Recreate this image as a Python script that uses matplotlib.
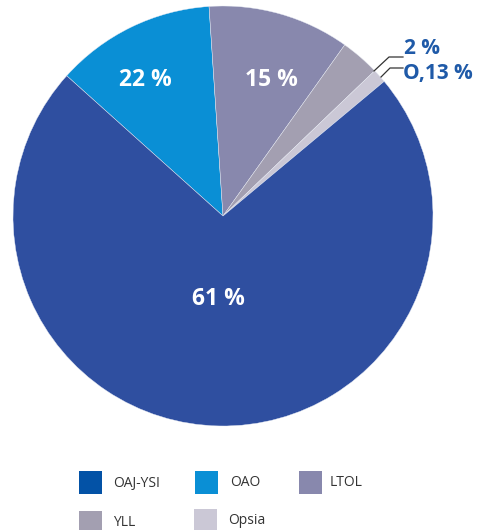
import matplotlib
matplotlib.use("Agg")
import matplotlib.pyplot as plt
from matplotlib.patches import Rectangle

plt.rcParams['font.family'] = ['Open Sans', 'DejaVu Sans']

# Data (slice shares as drawn in the picture; labels as printed)
categories = ["OAO", "LTOL", "YLL", "Opsia", "OAJ-YSI"]
shares = [12.3, 10.9, 3.0, 1.08, 72.7]
label_texts = ["22 %", "15 %", "2 %", "O,13 %", "61 %"]
colors = ["#0a8fd5", "#8888ad", "#a39fb1", "#cbc8d6", "#2f4fa0"]
legend_order = ["OAJ-YSI", "OAO", "LTOL", "YLL", "Opsia"]
legend_colors = {"OAJ-YSI": "#0352a6", "OAO": "#0a8fd5", "LTOL": "#8888ad",
                 "YLL": "#a39fb1", "Opsia": "#cbc8d6"}

W, H = 479, 530
fig = plt.figure(figsize=(W / 100, H / 100), dpi=100)
cx, cy, r = 223, 216, 210
ax = fig.add_axes([(cx - r) / W, (H - cy - r) / H, 2 * r / W, 2 * r / H])
ax.pie(shares, colors=colors, startangle=138.1, counterclock=False, radius=1,
       wedgeprops=dict(edgecolor="#e8ecf5", linewidth=0.3))
ax.set_xlim(-1, 1)
ax.set_ylim(-1, 1)
ax.axis("off")

def px(x, y):
    return (x - cx) / r, (cy - y) / r

txt_in = dict(color="white", fontsize=16.5, fontweight="bold", ha="center", va="center")
ax.text(*px(145, 80), label_texts[0], **txt_in)
ax.text(*px(271, 80), label_texts[1], **txt_in)
ax.text(*px(218, 299), label_texts[4], **txt_in)

txt_out = dict(color="#1f5aa8", fontsize=15, fontweight="bold", ha="left", va="center")
ax.text(*px(404, 49), label_texts[2], **txt_out, clip_on=False)
ax.text(*px(403, 74), label_texts[3], **txt_out, clip_on=False)

# leader lines
for pts in ([(374, 71), (389, 57), (403, 57)], [(381, 77), (390, 68), (403, 68)]):
    xs, ys = zip(*[px(*p) for p in pts])
    ax.plot(xs, ys, color="#333333", lw=0.9, clip_on=False)

# legend (manual)
pos = {"OAJ-YSI": (79, 471, 113), "OAO": (195, 471, 230), "LTOL": (299, 471, 330),
       "YLL": (79, 511, 113), "Opsia": (194, 509, 228)}
for name in legend_order:
    x0, y0, tx = pos[name]
    fig.patches.append(Rectangle((x0 / W, 1 - (y0 + 23) / H), 23 / W, 23 / H,
                                 transform=fig.transFigure, facecolor=legend_colors[name],
                                 edgecolor="none"))
    fig.text(tx / W, 1 - (y0 + 12) / H, name, fontsize=10, color="#333333",
             ha="left", va="center")

fig.savefig("out.png", dpi=100)
